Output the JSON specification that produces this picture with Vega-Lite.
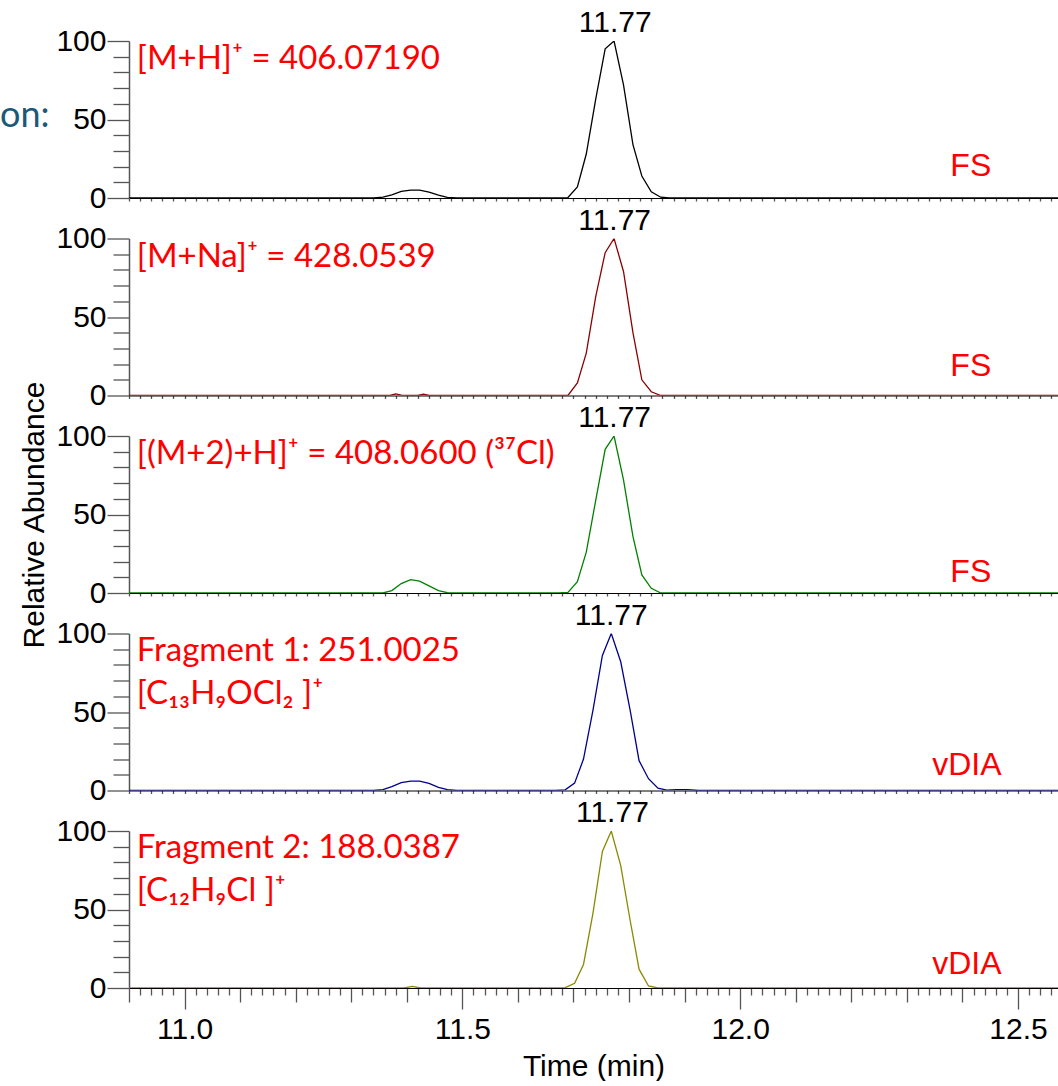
{
  "$schema": "https://vega.github.io/schema/vega-lite/v6.json",
  "padding": {"left": 0, "top": 8, "right": 0, "bottom": 0},
  "background": "white",
  "config": {
    "view": {"stroke": null},
    "axis": {"grid": false, "labelFont": "Liberation Sans", "titleFont": "Liberation Sans", "labelColor": "#000", "titleColor": "#000", "titleFontWeight": "normal", "domainColor": "#555", "tickColor": "#555", "labelFlush": false, "labelOverlap": false, "labelFontSize": 30, "titleFontSize": 30, "tickWidth": 1.3}
  },
  "datasets": {
    "xic": [
      {"panel": 1, "t": 10.9, "v": 0}, {"panel": 1, "t": 11.34, "v": 0}, {"panel": 1, "t": 11.357, "v": 0.5}, {"panel": 1, "t": 11.373, "v": 2}, {"panel": 1, "t": 11.39, "v": 4.2}, {"panel": 1, "t": 11.407, "v": 5}, {"panel": 1, "t": 11.423, "v": 5}, {"panel": 1, "t": 11.44, "v": 3.8}, {"panel": 1, "t": 11.457, "v": 1.8}, {"panel": 1, "t": 11.473, "v": 0.4}, {"panel": 1, "t": 11.49, "v": 0},
      {"panel": 1, "t": 11.673, "v": 0}, {"panel": 1, "t": 11.69, "v": 0.3}, {"panel": 1, "t": 11.707, "v": 7}, {"panel": 1, "t": 11.723, "v": 28}, {"panel": 1, "t": 11.74, "v": 63}, {"panel": 1, "t": 11.757, "v": 95}, {"panel": 1, "t": 11.773, "v": 100}, {"panel": 1, "t": 11.79, "v": 72}, {"panel": 1, "t": 11.807, "v": 34}, {"panel": 1, "t": 11.823, "v": 14}, {"panel": 1, "t": 11.84, "v": 4}, {"panel": 1, "t": 11.857, "v": 0.5}, {"panel": 1, "t": 11.873, "v": 0}, {"panel": 1, "t": 12.6, "v": 0},

      {"panel": 2, "t": 10.9, "v": 0}, {"panel": 2, "t": 11.37, "v": 0}, {"panel": 2, "t": 11.38, "v": 1}, {"panel": 2, "t": 11.39, "v": 0.3}, {"panel": 2, "t": 11.42, "v": 0}, {"panel": 2, "t": 11.43, "v": 0.8}, {"panel": 2, "t": 11.44, "v": 0},
      {"panel": 2, "t": 11.673, "v": 0}, {"panel": 2, "t": 11.69, "v": 0}, {"panel": 2, "t": 11.707, "v": 8}, {"panel": 2, "t": 11.723, "v": 27}, {"panel": 2, "t": 11.74, "v": 63}, {"panel": 2, "t": 11.757, "v": 91}, {"panel": 2, "t": 11.773, "v": 100}, {"panel": 2, "t": 11.79, "v": 79}, {"panel": 2, "t": 11.807, "v": 40}, {"panel": 2, "t": 11.823, "v": 10}, {"panel": 2, "t": 11.84, "v": 2.4}, {"panel": 2, "t": 11.857, "v": 0}, {"panel": 2, "t": 12.6, "v": 0},

      {"panel": 3, "t": 10.9, "v": 0}, {"panel": 3, "t": 11.357, "v": 0}, {"panel": 3, "t": 11.373, "v": 1.5}, {"panel": 3, "t": 11.39, "v": 6}, {"panel": 3, "t": 11.407, "v": 8.5}, {"panel": 3, "t": 11.423, "v": 7.5}, {"panel": 3, "t": 11.44, "v": 4.5}, {"panel": 3, "t": 11.457, "v": 1.5}, {"panel": 3, "t": 11.473, "v": 0.2}, {"panel": 3, "t": 11.49, "v": 0},
      {"panel": 3, "t": 11.673, "v": 0}, {"panel": 3, "t": 11.69, "v": 0.4}, {"panel": 3, "t": 11.707, "v": 7.2}, {"panel": 3, "t": 11.723, "v": 26}, {"panel": 3, "t": 11.74, "v": 59}, {"panel": 3, "t": 11.757, "v": 91.5}, {"panel": 3, "t": 11.773, "v": 100}, {"panel": 3, "t": 11.79, "v": 72}, {"panel": 3, "t": 11.807, "v": 36}, {"panel": 3, "t": 11.823, "v": 11.5}, {"panel": 3, "t": 11.84, "v": 3}, {"panel": 3, "t": 11.857, "v": 0}, {"panel": 3, "t": 12.6, "v": 0},

      {"panel": 4, "t": 10.9, "v": 0}, {"panel": 4, "t": 11.34, "v": 0}, {"panel": 4, "t": 11.357, "v": 0.6}, {"panel": 4, "t": 11.373, "v": 2.5}, {"panel": 4, "t": 11.39, "v": 5}, {"panel": 4, "t": 11.407, "v": 6}, {"panel": 4, "t": 11.423, "v": 6}, {"panel": 4, "t": 11.44, "v": 4.5}, {"panel": 4, "t": 11.457, "v": 2}, {"panel": 4, "t": 11.473, "v": 0.5}, {"panel": 4, "t": 11.49, "v": 0},
      {"panel": 4, "t": 11.668, "v": 0}, {"panel": 4, "t": 11.685, "v": 0.4}, {"panel": 4, "t": 11.702, "v": 4.7}, {"panel": 4, "t": 11.718, "v": 20}, {"panel": 4, "t": 11.735, "v": 51}, {"panel": 4, "t": 11.752, "v": 86}, {"panel": 4, "t": 11.768, "v": 100}, {"panel": 4, "t": 11.785, "v": 82}, {"panel": 4, "t": 11.802, "v": 51}, {"panel": 4, "t": 11.818, "v": 19}, {"panel": 4, "t": 11.835, "v": 7.5}, {"panel": 4, "t": 11.852, "v": 1.5}, {"panel": 4, "t": 11.868, "v": 0.3}, {"panel": 4, "t": 11.885, "v": 0.6}, {"panel": 4, "t": 11.905, "v": 0.6}, {"panel": 4, "t": 11.925, "v": 0}, {"panel": 4, "t": 12.6, "v": 0},

      {"panel": 5, "t": 10.9, "v": 0}, {"panel": 5, "t": 11.395, "v": 0}, {"panel": 5, "t": 11.41, "v": 1}, {"panel": 5, "t": 11.425, "v": 0},
      {"panel": 5, "t": 11.668, "v": 0}, {"panel": 5, "t": 11.685, "v": 0.2}, {"panel": 5, "t": 11.702, "v": 3}, {"panel": 5, "t": 11.718, "v": 15}, {"panel": 5, "t": 11.735, "v": 47.6}, {"panel": 5, "t": 11.752, "v": 87}, {"panel": 5, "t": 11.768, "v": 100}, {"panel": 5, "t": 11.785, "v": 78}, {"panel": 5, "t": 11.802, "v": 43}, {"panel": 5, "t": 11.818, "v": 12}, {"panel": 5, "t": 11.835, "v": 1.3}, {"panel": 5, "t": 11.852, "v": 0}, {"panel": 5, "t": 12.6, "v": 0}
    ]
  },
  "vconcat": [
    {
      "width": 929, "height": 157,
      "layer": [
        {"data": {"name": "xic"}, "transform": [{"filter": "datum.panel === 1"}],
         "mark": {"type": "line", "color": "#000000", "strokeWidth": 1.3, "clip": true},
         "encoding": {
           "x": {"field": "t", "type": "quantitative", "scale": {"domain": [10.9, 12.572], "nice": false, "zero": false}, "axis": {"tickCount": 84, "tickSize": 3, "labels": false, "title": null, "domainColor": "#000"}},
           "y": {"field": "v", "type": "quantitative", "scale": {"domain": [0, 100], "nice": false}, "axis": {"tickCount": 10, "tickSize": {"condition": {"test": "datum.value % 50 === 0", "value": 22}, "value": 16}, "labelExpr": "datum.value % 50 === 0 ? datum.label : ''", "labelPadding": 1, "domainWidth": 1.5, "title": null}}
         }},
        {"data": {"values": [{}]},
         "mark": {"type": "text", "text": "11.77", "font": "Liberation Sans", "fontSize": 30, "color": "#000", "baseline": "alphabetic", "align": "center", "dy": -9},
         "encoding": {
           "x": {"datum": 11.775, "type": "quantitative", "scale": {"domain": [10.9, 12.572], "nice": false, "zero": false}, "axis": {"tickCount": 84, "tickSize": 3, "labels": false, "title": null, "domainColor": "#000"}},
           "y": {"datum": 100, "type": "quantitative", "scale": {"domain": [0, 100], "nice": false}, "axis": {"tickCount": 10, "tickSize": {"condition": {"test": "datum.value % 50 === 0", "value": 22}, "value": 16}, "labelExpr": "datum.value % 50 === 0 ? datum.label : ''", "labelPadding": 1, "domainWidth": 1.5, "title": null}}
         }},
        {"data": {"values": [{}]},
         "mark": {"type": "text", "text": "[M+H]⁺ = 406.07190", "font": "Lato", "fontSize": 33, "color": "#ff0000", "baseline": "top", "align": "left", "dy": 2},
         "encoding": {
           "x": {"datum": 10.914, "type": "quantitative", "scale": {"domain": [10.9, 12.572], "nice": false, "zero": false}, "axis": {"tickCount": 84, "tickSize": 3, "labels": false, "title": null, "domainColor": "#000"}},
           "y": {"datum": 100, "type": "quantitative", "scale": {"domain": [0, 100], "nice": false}, "axis": {"tickCount": 10, "tickSize": {"condition": {"test": "datum.value % 50 === 0", "value": 22}, "value": 16}, "labelExpr": "datum.value % 50 === 0 ? datum.label : ''", "labelPadding": 1, "domainWidth": 1.5, "title": null}}
         }},
        {"data": {"values": [{}]},
         "mark": {"type": "text", "text": "FS", "font": "Liberation Sans", "fontSize": 32, "color": "#ff0000", "baseline": "alphabetic", "align": "center"},
         "encoding": {
           "x": {"datum": 12.415, "type": "quantitative", "scale": {"domain": [10.9, 12.572], "nice": false, "zero": false}, "axis": {"tickCount": 84, "tickSize": 3, "labels": false, "title": null, "domainColor": "#000"}},
           "y": {"datum": 13.8, "type": "quantitative", "scale": {"domain": [0, 100], "nice": false}, "axis": {"tickCount": 10, "tickSize": {"condition": {"test": "datum.value % 50 === 0", "value": 22}, "value": 16}, "labelExpr": "datum.value % 50 === 0 ? datum.label : ''", "labelPadding": 1, "domainWidth": 1.5, "title": null}}
         }},
        {"data": {"values": [{}]},
         "mark": {"type": "text", "text": "on:", "font": "Lato", "fontSize": 36, "color": "#1a5a78", "baseline": "alphabetic", "align": "left"},
         "encoding": {
           "x": {"datum": 10.668, "type": "quantitative", "scale": {"domain": [10.9, 12.572], "nice": false, "zero": false}, "axis": {"tickCount": 84, "tickSize": 3, "labels": false, "title": null, "domainColor": "#000"}},
           "y": {"datum": 45, "type": "quantitative", "scale": {"domain": [0, 100], "nice": false}, "axis": {"tickCount": 10, "tickSize": {"condition": {"test": "datum.value % 50 === 0", "value": 22}, "value": 16}, "labelExpr": "datum.value % 50 === 0 ? datum.label : ''", "labelPadding": 1, "domainWidth": 1.5, "title": null}}
         }}
      ]
    },
    {
      "width": 929, "height": 157,
      "layer": [
        {"data": {"name": "xic"}, "transform": [{"filter": "datum.panel === 2"}],
         "mark": {"type": "line", "color": "#8b0000", "strokeWidth": 1.3, "clip": true},
         "encoding": {
           "x": {"field": "t", "type": "quantitative", "scale": {"domain": [10.9, 12.572], "nice": false, "zero": false}, "axis": {"tickCount": 84, "tickSize": 3, "labels": false, "title": null, "domainColor": "#000"}},
           "y": {"field": "v", "type": "quantitative", "scale": {"domain": [0, 100], "nice": false}, "axis": {"tickCount": 10, "tickSize": {"condition": {"test": "datum.value % 50 === 0", "value": 22}, "value": 16}, "labelExpr": "datum.value % 50 === 0 ? datum.label : ''", "labelPadding": 1, "domainWidth": 1.5, "title": null}}
         }},
        {"data": {"values": [{}]},
         "mark": {"type": "text", "text": "11.77", "font": "Liberation Sans", "fontSize": 30, "color": "#000", "baseline": "alphabetic", "align": "center", "dy": -9},
         "encoding": {
           "x": {"datum": 11.774, "type": "quantitative", "scale": {"domain": [10.9, 12.572], "nice": false, "zero": false}, "axis": {"tickCount": 84, "tickSize": 3, "labels": false, "title": null, "domainColor": "#000"}},
           "y": {"datum": 100, "type": "quantitative", "scale": {"domain": [0, 100], "nice": false}, "axis": {"tickCount": 10, "tickSize": {"condition": {"test": "datum.value % 50 === 0", "value": 22}, "value": 16}, "labelExpr": "datum.value % 50 === 0 ? datum.label : ''", "labelPadding": 1, "domainWidth": 1.5, "title": null}}
         }},
        {"data": {"values": [{}]},
         "mark": {"type": "text", "text": "[M+Na]⁺ = 428.0539", "font": "Lato", "fontSize": 33, "color": "#ff0000", "baseline": "top", "align": "left", "dy": 2},
         "encoding": {
           "x": {"datum": 10.914, "type": "quantitative", "scale": {"domain": [10.9, 12.572], "nice": false, "zero": false}, "axis": {"tickCount": 84, "tickSize": 3, "labels": false, "title": null, "domainColor": "#000"}},
           "y": {"datum": 100, "type": "quantitative", "scale": {"domain": [0, 100], "nice": false}, "axis": {"tickCount": 10, "tickSize": {"condition": {"test": "datum.value % 50 === 0", "value": 22}, "value": 16}, "labelExpr": "datum.value % 50 === 0 ? datum.label : ''", "labelPadding": 1, "domainWidth": 1.5, "title": null}}
         }},
        {"data": {"values": [{}]},
         "mark": {"type": "text", "text": "FS", "font": "Liberation Sans", "fontSize": 32, "color": "#ff0000", "baseline": "alphabetic", "align": "center"},
         "encoding": {
           "x": {"datum": 12.415, "type": "quantitative", "scale": {"domain": [10.9, 12.572], "nice": false, "zero": false}, "axis": {"tickCount": 84, "tickSize": 3, "labels": false, "title": null, "domainColor": "#000"}},
           "y": {"datum": 12.4, "type": "quantitative", "scale": {"domain": [0, 100], "nice": false}, "axis": {"tickCount": 10, "tickSize": {"condition": {"test": "datum.value % 50 === 0", "value": 22}, "value": 16}, "labelExpr": "datum.value % 50 === 0 ? datum.label : ''", "labelPadding": 1, "domainWidth": 1.5, "title": null}}
         }}
      ]
    },
    {
      "width": 929, "height": 157,
      "layer": [
        {"data": {"name": "xic"}, "transform": [{"filter": "datum.panel === 3"}],
         "mark": {"type": "line", "color": "#008000", "strokeWidth": 1.3, "clip": true},
         "encoding": {
           "x": {"field": "t", "type": "quantitative", "scale": {"domain": [10.9, 12.572], "nice": false, "zero": false}, "axis": {"tickCount": 84, "tickSize": 3, "labels": false, "title": null, "domainColor": "#000"}},
           "y": {"field": "v", "type": "quantitative", "scale": {"domain": [0, 100], "nice": false}, "axis": {"tickCount": 10, "tickSize": {"condition": {"test": "datum.value % 50 === 0", "value": 22}, "value": 16}, "labelExpr": "datum.value % 50 === 0 ? datum.label : ''", "labelPadding": 1, "domainWidth": 1.5, "title": "Relative Abundance", "titlePadding": 6}}
         }},
        {"data": {"values": [{}]},
         "mark": {"type": "text", "text": "11.77", "font": "Liberation Sans", "fontSize": 30, "color": "#000", "baseline": "alphabetic", "align": "center", "dy": -9},
         "encoding": {
           "x": {"datum": 11.774, "type": "quantitative", "scale": {"domain": [10.9, 12.572], "nice": false, "zero": false}, "axis": {"tickCount": 84, "tickSize": 3, "labels": false, "title": null, "domainColor": "#000"}},
           "y": {"datum": 100, "type": "quantitative", "scale": {"domain": [0, 100], "nice": false}, "axis": {"tickCount": 10, "tickSize": {"condition": {"test": "datum.value % 50 === 0", "value": 22}, "value": 16}, "labelExpr": "datum.value % 50 === 0 ? datum.label : ''", "labelPadding": 1, "domainWidth": 1.5, "title": "Relative Abundance", "titlePadding": 6}}
         }},
        {"data": {"values": [{}]},
         "mark": {"type": "text", "text": "[(M+2)+H]⁺ = 408.0600 (³⁷Cl)", "font": "Lato", "fontSize": 33, "color": "#ff0000", "baseline": "top", "align": "left", "dy": 2},
         "encoding": {
           "x": {"datum": 10.914, "type": "quantitative", "scale": {"domain": [10.9, 12.572], "nice": false, "zero": false}, "axis": {"tickCount": 84, "tickSize": 3, "labels": false, "title": null, "domainColor": "#000"}},
           "y": {"datum": 100, "type": "quantitative", "scale": {"domain": [0, 100], "nice": false}, "axis": {"tickCount": 10, "tickSize": {"condition": {"test": "datum.value % 50 === 0", "value": 22}, "value": 16}, "labelExpr": "datum.value % 50 === 0 ? datum.label : ''", "labelPadding": 1, "domainWidth": 1.5, "title": "Relative Abundance", "titlePadding": 6}}
         }},
        {"data": {"values": [{}]},
         "mark": {"type": "text", "text": "FS", "font": "Liberation Sans", "fontSize": 32, "color": "#ff0000", "baseline": "alphabetic", "align": "center"},
         "encoding": {
           "x": {"datum": 12.415, "type": "quantitative", "scale": {"domain": [10.9, 12.572], "nice": false, "zero": false}, "axis": {"tickCount": 84, "tickSize": 3, "labels": false, "title": null, "domainColor": "#000"}},
           "y": {"datum": 7.3, "type": "quantitative", "scale": {"domain": [0, 100], "nice": false}, "axis": {"tickCount": 10, "tickSize": {"condition": {"test": "datum.value % 50 === 0", "value": 22}, "value": 16}, "labelExpr": "datum.value % 50 === 0 ? datum.label : ''", "labelPadding": 1, "domainWidth": 1.5, "title": "Relative Abundance", "titlePadding": 6}}
         }}
      ]
    },
    {
      "width": 929, "height": 157,
      "layer": [
        {"data": {"name": "xic"}, "transform": [{"filter": "datum.panel === 4"}],
         "mark": {"type": "line", "color": "#00008b", "strokeWidth": 1.3, "clip": true},
         "encoding": {
           "x": {"field": "t", "type": "quantitative", "scale": {"domain": [10.9, 12.572], "nice": false, "zero": false}, "axis": {"tickCount": 84, "tickSize": 3, "labels": false, "title": null, "domainColor": "#000"}},
           "y": {"field": "v", "type": "quantitative", "scale": {"domain": [0, 100], "nice": false}, "axis": {"tickCount": 10, "tickSize": {"condition": {"test": "datum.value % 50 === 0", "value": 22}, "value": 16}, "labelExpr": "datum.value % 50 === 0 ? datum.label : ''", "labelPadding": 1, "domainWidth": 1.5, "title": null}}
         }},
        {"data": {"values": [{}]},
         "mark": {"type": "text", "text": "11.77", "font": "Liberation Sans", "fontSize": 30, "color": "#000", "baseline": "alphabetic", "align": "center", "dy": -9},
         "encoding": {
           "x": {"datum": 11.768, "type": "quantitative", "scale": {"domain": [10.9, 12.572], "nice": false, "zero": false}, "axis": {"tickCount": 84, "tickSize": 3, "labels": false, "title": null, "domainColor": "#000"}},
           "y": {"datum": 100, "type": "quantitative", "scale": {"domain": [0, 100], "nice": false}, "axis": {"tickCount": 10, "tickSize": {"condition": {"test": "datum.value % 50 === 0", "value": 22}, "value": 16}, "labelExpr": "datum.value % 50 === 0 ? datum.label : ''", "labelPadding": 1, "domainWidth": 1.5, "title": null}}
         }},
        {"data": {"values": [{}]},
         "mark": {"type": "text", "text": ["Fragment 1: 251.0025", "[C₁₃H₉OCl₂ ]⁺"], "lineHeight": 43, "font": "Lato", "fontSize": 33, "color": "#ff0000", "baseline": "top", "align": "left", "dy": 1},
         "encoding": {
           "x": {"datum": 10.914, "type": "quantitative", "scale": {"domain": [10.9, 12.572], "nice": false, "zero": false}, "axis": {"tickCount": 84, "tickSize": 3, "labels": false, "title": null, "domainColor": "#000"}},
           "y": {"datum": 100, "type": "quantitative", "scale": {"domain": [0, 100], "nice": false}, "axis": {"tickCount": 10, "tickSize": {"condition": {"test": "datum.value % 50 === 0", "value": 22}, "value": 16}, "labelExpr": "datum.value % 50 === 0 ? datum.label : ''", "labelPadding": 1, "domainWidth": 1.5, "title": null}}
         }},
        {"data": {"values": [{}]},
         "mark": {"type": "text", "text": "vDIA", "font": "Liberation Sans", "fontSize": 32, "color": "#ff0000", "baseline": "alphabetic", "align": "center"},
         "encoding": {
           "x": {"datum": 12.408, "type": "quantitative", "scale": {"domain": [10.9, 12.572], "nice": false, "zero": false}, "axis": {"tickCount": 84, "tickSize": 3, "labels": false, "title": null, "domainColor": "#000"}},
           "y": {"datum": 9.9, "type": "quantitative", "scale": {"domain": [0, 100], "nice": false}, "axis": {"tickCount": 10, "tickSize": {"condition": {"test": "datum.value % 50 === 0", "value": 22}, "value": 16}, "labelExpr": "datum.value % 50 === 0 ? datum.label : ''", "labelPadding": 1, "domainWidth": 1.5, "title": null}}
         }}
      ]
    },
    {
      "width": 929, "height": 157,
      "layer": [
        {"data": {"name": "xic"}, "transform": [{"filter": "datum.panel === 5"}],
         "mark": {"type": "line", "color": "#8a8a00", "strokeWidth": 1.3, "clip": true},
         "encoding": {
           "x": {"field": "t", "type": "quantitative", "scale": {"domain": [10.9, 12.572], "nice": false, "zero": false}, "axis": {"tickCount": 84, "tickSize": {"condition": [{"test": "abs(datum.value*2 - round(datum.value*2)) < 0.001", "value": 21}, {"test": "abs(datum.value*10 - round(datum.value*10)) < 0.001", "value": 14}], "value": 7}, "labelExpr": "abs(datum.value*2 - round(datum.value*2)) < 0.001 ? format(datum.value, '.1f') : ''", "labelPadding": 5, "domainColor": "#000", "title": "Time (min)", "titlePadding": 7}},
           "y": {"field": "v", "type": "quantitative", "scale": {"domain": [0, 100], "nice": false}, "axis": {"tickCount": 10, "tickSize": {"condition": {"test": "datum.value % 50 === 0", "value": 22}, "value": 16}, "labelExpr": "datum.value % 50 === 0 ? datum.label : ''", "labelPadding": 1, "domainWidth": 1.5, "title": null}}
         }},
        {"data": {"values": [{}]},
         "mark": {"type": "text", "text": "11.77", "font": "Liberation Sans", "fontSize": 30, "color": "#000", "baseline": "alphabetic", "align": "center", "dy": -9},
         "encoding": {
           "x": {"datum": 11.77, "type": "quantitative", "scale": {"domain": [10.9, 12.572], "nice": false, "zero": false}, "axis": {"tickCount": 84, "tickSize": {"condition": [{"test": "abs(datum.value*2 - round(datum.value*2)) < 0.001", "value": 21}, {"test": "abs(datum.value*10 - round(datum.value*10)) < 0.001", "value": 14}], "value": 7}, "labelExpr": "abs(datum.value*2 - round(datum.value*2)) < 0.001 ? format(datum.value, '.1f') : ''", "labelPadding": 5, "domainColor": "#000", "title": "Time (min)", "titlePadding": 7}},
           "y": {"datum": 100, "type": "quantitative", "scale": {"domain": [0, 100], "nice": false}, "axis": {"tickCount": 10, "tickSize": {"condition": {"test": "datum.value % 50 === 0", "value": 22}, "value": 16}, "labelExpr": "datum.value % 50 === 0 ? datum.label : ''", "labelPadding": 1, "domainWidth": 1.5, "title": null}}
         }},
        {"data": {"values": [{}]},
         "mark": {"type": "text", "text": ["Fragment 2: 188.0387", "[C₁₂H₉Cl ]⁺"], "lineHeight": 43, "font": "Lato", "fontSize": 33, "color": "#ff0000", "baseline": "top", "align": "left", "dy": 1},
         "encoding": {
           "x": {"datum": 10.914, "type": "quantitative", "scale": {"domain": [10.9, 12.572], "nice": false, "zero": false}, "axis": {"tickCount": 84, "tickSize": {"condition": [{"test": "abs(datum.value*2 - round(datum.value*2)) < 0.001", "value": 21}, {"test": "abs(datum.value*10 - round(datum.value*10)) < 0.001", "value": 14}], "value": 7}, "labelExpr": "abs(datum.value*2 - round(datum.value*2)) < 0.001 ? format(datum.value, '.1f') : ''", "labelPadding": 5, "domainColor": "#000", "title": "Time (min)", "titlePadding": 7}},
           "y": {"datum": 100, "type": "quantitative", "scale": {"domain": [0, 100], "nice": false}, "axis": {"tickCount": 10, "tickSize": {"condition": {"test": "datum.value % 50 === 0", "value": 22}, "value": 16}, "labelExpr": "datum.value % 50 === 0 ? datum.label : ''", "labelPadding": 1, "domainWidth": 1.5, "title": null}}
         }},
        {"data": {"values": [{}]},
         "mark": {"type": "text", "text": "vDIA", "font": "Liberation Sans", "fontSize": 32, "color": "#ff0000", "baseline": "alphabetic", "align": "center"},
         "encoding": {
           "x": {"datum": 12.408, "type": "quantitative", "scale": {"domain": [10.9, 12.572], "nice": false, "zero": false}, "axis": {"tickCount": 84, "tickSize": {"condition": [{"test": "abs(datum.value*2 - round(datum.value*2)) < 0.001", "value": 21}, {"test": "abs(datum.value*10 - round(datum.value*10)) < 0.001", "value": 14}], "value": 7}, "labelExpr": "abs(datum.value*2 - round(datum.value*2)) < 0.001 ? format(datum.value, '.1f') : ''", "labelPadding": 5, "domainColor": "#000", "title": "Time (min)", "titlePadding": 7}},
           "y": {"datum": 9.2, "type": "quantitative", "scale": {"domain": [0, 100], "nice": false}, "axis": {"tickCount": 10, "tickSize": {"condition": {"test": "datum.value % 50 === 0", "value": 22}, "value": 16}, "labelExpr": "datum.value % 50 === 0 ? datum.label : ''", "labelPadding": 1, "domainWidth": 1.5, "title": null}}
         }}
      ]
    }
  ],
  "spacing": 40.5,
  "bounds": "flush"
}
